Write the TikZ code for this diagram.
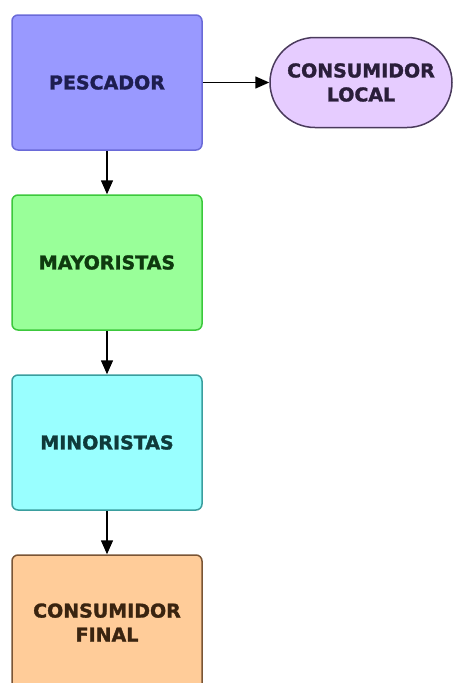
\documentclass[tikz,border=0pt]{standalone}
\usepackage{fontspec}
\setmainfont{DejaVu Sans}
\newfontfamily\heavyfont[FakeBold=1.6]{DejaVu Sans Bold}
\usetikzlibrary{shapes.misc,arrows.meta}
\definecolor{pescF}{HTML}{9999FF}\definecolor{pescD}{HTML}{6A6AD8}\definecolor{pescT}{HTML}{1E1E50}
\definecolor{locF}{HTML}{E6CCFF}\definecolor{locD}{HTML}{4A3A5C}\definecolor{locT}{HTML}{2A1E3A}
\definecolor{mayF}{HTML}{99FF99}\definecolor{mayD}{HTML}{3CC83C}\definecolor{mayT}{HTML}{0F3A0F}
\definecolor{minF}{HTML}{99FFFF}\definecolor{minD}{HTML}{3A9E9E}\definecolor{minT}{HTML}{0F3A3A}
\definecolor{finF}{HTML}{FFCC99}\definecolor{finD}{HTML}{7A5535}\definecolor{finT}{HTML}{3A2410}
\tikzset{
  stagebox/.style={rectangle, rounded corners=6pt, minimum width=190pt, minimum height=135pt, line width=1.5pt, align=center, font=\heavyfont\fontsize{19}{24}\selectfont, inner sep=0pt},
  pillbox/.style={rounded rectangle, minimum width=182pt, minimum height=90pt, line width=1.5pt, align=center, font=\heavyfont\fontsize{19}{24}\selectfont, inner sep=0pt},
  flow/.style={-{Triangle[length=14pt,width=12pt]}, line width=1.5pt, black}
}
\begin{document}
\begin{tikzpicture}[x=1pt,y=-1pt]
\useasboundingbox (0,0) rectangle (453,683);
\clip (0,0) rectangle (453,683);
\node[stagebox, fill=pescF, draw=pescD, text=pescT] (pesc) at (107,82.5) {PESCADOR};
\node[pillbox, fill=locF, draw=locD, text=locT] (local) at (361,82.5) {CONSUMIDOR\\LOCAL};
\node[stagebox, fill=mayF, draw=mayD, text=mayT] (may) at (107,262.5) {MAYORISTAS};
\node[stagebox, fill=minF, draw=minD, text=minT] (min) at (107,442.5) {MINORISTAS};
\node[stagebox, fill=finF, draw=finD, text=finT] (fin) at (107,622.5) {CONSUMIDOR\\FINAL};
\draw[flow] (pesc.east) -- (local.west);
\draw[flow] (pesc.south) -- (may.north);
\draw[flow] (may.south) -- (min.north);
\draw[flow] (min.south) -- (fin.north);
\end{tikzpicture}
\end{document}
